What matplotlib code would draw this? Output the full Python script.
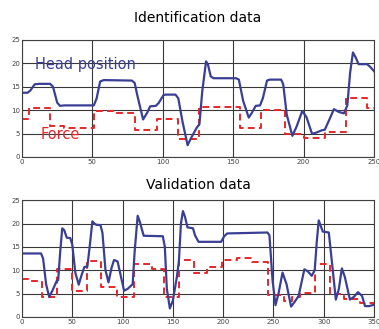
import numpy as np
import matplotlib.pyplot as plt

# identification data
id_pos_t = [0, 4, 6, 9, 12, 20, 22, 25, 27, 30, 51, 53, 55.5, 58, 78, 80, 82, 86, 89, 91, 95, 97, 100.5, 102, 109, 111, 114, 117.6,
            120, 124, 126, 128, 130.7, 132, 134, 136, 152, 154, 157, 161, 163, 166, 169, 171, 174, 176, 184, 185.5, 188, 192,
            195, 199, 202, 206, 209, 213, 215, 218, 221.5, 225, 228.6, 231, 233, 235, 237, 239, 245, 247, 250]
id_pos = [13.7, 13.7, 14.2, 15.5, 15.6, 15.6, 15.0, 11.6, 10.9, 11.0, 11.0, 12.5, 16.1, 16.4, 16.3, 15.8, 13.0, 8.0, 9.5, 10.8, 10.9, 11.5, 13.2, 13.3, 13.3, 12.5, 7.5, 2.5,
          4.0, 6.2, 7.0, 14.0, 20.4, 19.8, 17.2, 16.8, 16.8, 16.5, 12.0, 8.4, 9.3, 10.9, 11.0, 12.5, 16.3, 16.5, 16.5, 15.5, 9.0, 4.5,
          6.5, 9.8, 8.5, 4.9, 5.2, 5.7, 5.8, 7.8, 10.2, 9.6, 9.3, 11.0, 18.0, 22.3, 21.2, 19.8, 19.8, 19.3, 18.3]
id_force_t = [0, 5, 20, 30, 51, 65, 80, 96, 111, 126, 155, 170, 187, 200, 215.5, 230, 245, 250]
id_force = [8.1, 10.4, 6.7, 6.2, 9.9, 9.3, 5.8, 8.2, 3.9, 10.6, 6.1, 10.1, 4.9, 4.1, 5.3, 12.6, 10.4, 10.4]

# validation data
va_pos_t = [0, 19, 21, 24, 27, 30, 34.5, 36, 38, 40, 42, 44.5, 48, 50, 53, 56.4, 59, 62, 65, 67, 70, 72, 74, 78, 80, 83, 86,
            89, 91.5, 95, 98, 101.5, 105, 110, 112, 115, 117, 121, 140, 142, 144, 147, 150, 154, 156, 158, 160, 162, 164.5, 170, 172,
            175.5, 198, 201, 204, 244, 246, 249, 252, 255, 259, 263, 267.5, 271, 275, 278, 280.7, 284, 288, 291, 293, 295, 297,
            299, 305, 307, 312, 315, 318, 321, 326, 330, 334, 338, 341, 345, 350]
va_pos = [13.6, 13.6, 12.5, 7.0, 4.3, 5.5, 7.7, 7.9, 14.0, 19.0, 18.6, 17.0, 16.9, 15.5, 9.5, 6.9, 8.8, 10.7, 10.8, 14.5, 20.5, 20.0, 19.75, 19.7, 18.0, 10.0, 7.4,
          10.5, 12.2, 11.9, 9.0, 5.6, 6.0, 7.0, 14.0, 21.7, 20.5, 17.4, 17.3, 15.0, 6.0, 1.8, 3.5, 8.6, 12.0, 20.0, 22.7, 21.5, 19.2, 19.0, 17.5,
          16.1, 16.1, 17.3, 17.9, 18.1, 17.5, 8.0, 2.5, 5.0, 9.5, 7.0, 2.2, 3.2, 4.5, 7.5, 10.2, 9.8, 8.8, 10.0, 16.0, 20.7, 19.5,
          18.3, 18.1, 14.0, 3.7, 6.0, 10.4, 8.5, 3.7, 4.3, 5.3, 4.5, 2.3, 2.3, 2.6]
va_force_t = [0, 8, 19.5, 35, 49.5, 65, 79, 94, 111, 129, 141, 155.6, 170.5, 184, 199, 214, 228.6, 245, 260, 268, 276, 291,
              306.5, 320, 336.4, 350]
va_force = [8.1, 7.7, 4.3, 10.2, 5.5, 11.9, 6.5, 4.3, 11.3, 10.3, 4.2, 12.3, 9.4, 10.8, 12.1, 12.7, 11.8, 4.6, 3.3, 4.2, 5.1, 11.4,
            5.0, 3.8, 3.0, 3.0]

blue = '#3a3f96'
red = '#e8262a'

fig = plt.figure(figsize=(3.79, 3.29), dpi=100)
axes = [fig.add_axes([0.058, 0.523, 0.929, 0.356]),
        fig.add_axes([0.058, 0.037, 0.929, 0.354])]
titles = ['Identification data', 'Validation data']
pads = [13, 8.5]
data = [(id_pos_t, id_pos, id_force_t, id_force, 250),
        (va_pos_t, va_pos, va_force_t, va_force, 350)]

for ax, title, pad, (pt, p, ft, f, xmax) in zip(axes, titles, pads, data):
    ax.plot(ft, f, color=red, lw=1.4, ls=(0, (3.5, 2.2)), drawstyle='steps-post')
    ax.plot(pt, p, color=blue, lw=1.6)
    ax.set_xlim(0, xmax)
    ax.set_ylim(0, 25)
    ax.set_xticks(np.arange(0, xmax + 1, 50))
    ax.set_yticks(np.arange(0, 26, 5))
    ax.grid(True, color='#383838', lw=0.8)
    ax.tick_params(labelsize=5, colors='#444444', length=0, pad=1.5)
    for s in ax.spines.values():
        s.set_color('#404040')
        s.set_linewidth(0.8)
    ax.set_title(title, fontsize=10, pad=pad)

axes[0].text(9.5, 19.8, 'Head position', color=blue, fontsize=10.5, va='center')
axes[0].text(13, 4.8, 'Force', color=red, fontsize=10.5, va='center')

fig.savefig('out.png', dpi=100)
